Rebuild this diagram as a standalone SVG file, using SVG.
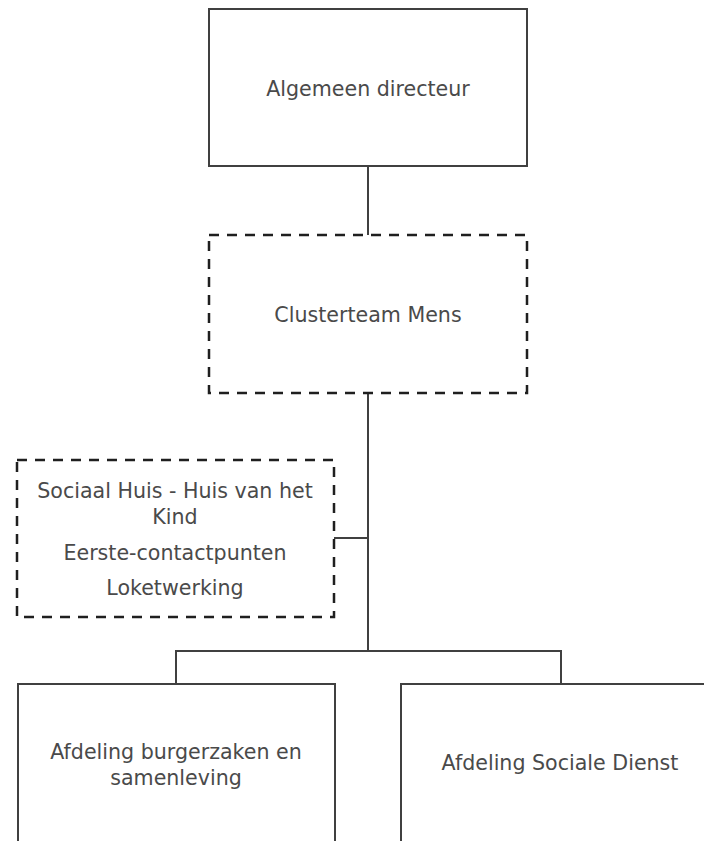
<svg xmlns="http://www.w3.org/2000/svg" width="704" height="841" viewBox="0 0 704 841">
  <style>
    .box { fill: #ffffff; stroke: #404040; stroke-width: 2; }
    .dashed { fill: #ffffff; stroke: #1f1f1f; stroke-width: 2.5; stroke-dasharray: 10 8; }
    .link { fill: none; stroke: #404040; stroke-width: 2; }
    text { font-family: "DejaVu Sans", sans-serif; font-size: 20.6px; fill: #4a4a4a; text-anchor: middle; }
  </style>
  <rect width="704" height="841" fill="#ffffff"/>
  <g id="connectors">
    <path class="link" d="M368 166 V235"/>
    <path class="link" d="M368 393 V651"/>
    <path class="link" d="M334 538 H368"/>
    <path class="link" d="M176 684 V651 H561 V684"/>
  </g>
  <g id="algemeen-directeur">
    <rect class="box" x="209" y="9" width="318" height="157"/>
    <text x="368" y="96">Algemeen directeur</text>
  </g>
  <g id="clusterteam-mens">
    <rect class="dashed" x="209" y="235" width="318" height="158"/>
    <text x="368" y="322">Clusterteam Mens</text>
  </g>
  <g id="sociaal-huis">
    <rect class="dashed" x="17" y="460" width="317" height="157"/>
    <text x="175" y="498">Sociaal Huis - Huis van het</text>
    <text x="175" y="524">Kind</text>
    <text x="175" y="560">Eerste-contactpunten</text>
    <text x="175" y="595">Loketwerking</text>
  </g>
  <!-- the lower boxes run past the bottom of the sheet -->
  <g id="afdeling-burgerzaken">
    <rect class="box" x="18" y="684" width="317" height="180"/>
    <text x="176" y="759">Afdeling burgerzaken en</text>
    <text x="176" y="785">samenleving</text>
  </g>
  <g id="afdeling-sociale-dienst">
    <rect class="box" x="401" y="684" width="330" height="180"/>
    <text x="560" y="770">Afdeling Sociale Dienst</text>
  </g>
</svg>
